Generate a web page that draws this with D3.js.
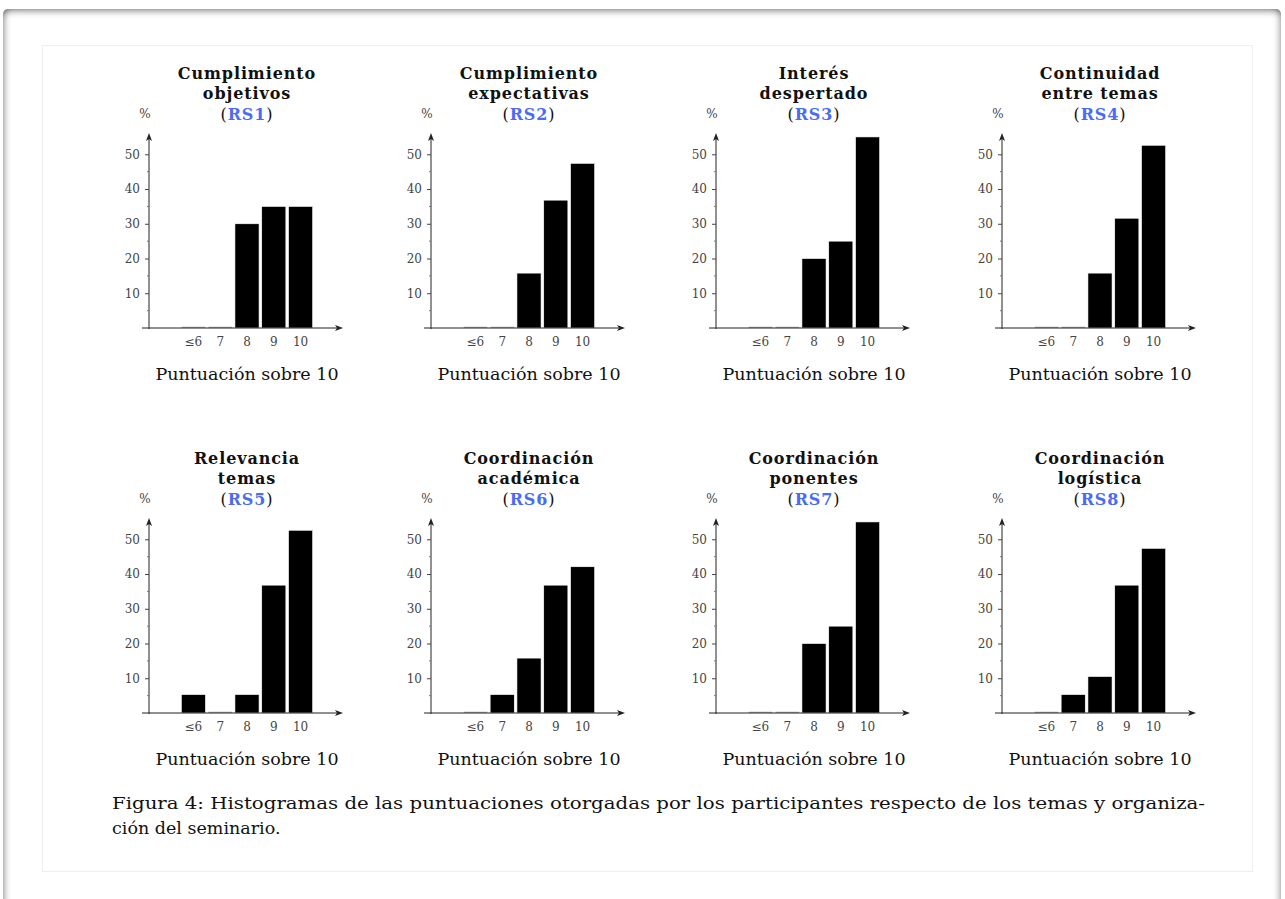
<!DOCTYPE html>
<html>
<head>
<meta charset="utf-8">
<script src="https://cdn.jsdelivr.net/npm/d3@7"></script>
<style>
body { margin: 0; background: #fff; width: 1285px; height: 899px; overflow: hidden; }
#paper {
  position: absolute; left: 3px; top: 9px; width: 1278px; height: 900px;
  background: #fff; border-radius: 5px 5px 0 0;
  box-shadow: inset 0 7px 7px -5px rgba(0,0,0,0.45), inset 6px 0 6px -4px rgba(0,0,0,0.35), inset -6px 0 6px -4px rgba(0,0,0,0.3);
}
svg { position: absolute; left: 0; top: 0; }
text { font-family: "DejaVu Serif", "Liberation Serif", serif; }
</style>
</head>
<body>
<div id="paper"></div>
<div id="chart"></div>
<script>
// score categories and tick labels
var categories = ["≤6", "7", "8", "9", "10"];
var yTicks = [10, 20, 30, 40, 50];
var yMinor = [5, 15, 25, 35, 45];

// titles (two lines) and codes
var titles = [
  ["Cumplimiento", "objetivos"],
  ["Cumplimiento", "expectativas"],
  ["Interés", "despertado"],
  ["Continuidad", "entre temas"],
  ["Relevancia", "temas"],
  ["Coordinación", "académica"],
  ["Coordinación", "ponentes"],
  ["Coordinación", "logística"]
];
var codes = ["RS1", "RS2", "RS3", "RS4", "RS5", "RS6", "RS7", "RS8"];

// percentages per panel (≤6, 7, 8, 9, 10)
var rs1 = [0, 0, 30, 35, 35];
var rs2 = [0, 0, 15.8, 36.8, 47.4];
var rs3 = [0, 0, 20, 25, 55];
var rs4 = [0, 0, 15.8, 31.6, 52.6];
var rs5 = [5.3, 0, 5.3, 36.8, 52.6];
var rs6 = [0, 5.3, 15.8, 36.8, 42.1];
var rs7 = [0, 0, 20, 25, 55];
var rs8 = [0, 5.3, 10.5, 36.8, 47.4];
var series = [rs1, rs2, rs3, rs4, rs5, rs6, rs7, rs8];

var xLabel = "Puntuación sobre 10";
var caption1 = "Figura 4: Histogramas de las puntuaciones otorgadas por los participantes respecto de los temas y organiza-";
var caption2 = "ción del seminario.";

var width = 1285, height = 899;
var colX = [149, 431, 716, 1002];   // y axis position per column
var rowY = [328, 713];              // baseline per row
var blue = "#4a6cf5";

var svg = d3.select("#chart").append("svg")
  .attr("width", width)
  .attr("height", height);

// inner box
svg.append("rect")
  .attr("x", 42.5).attr("y", 45.5)
  .attr("width", 1210).attr("height", 826)
  .attr("fill", "none")
  .attr("stroke", "#eeeeee");

function drawPanel(i) {
  var ax = colX[i % 4], base = rowY[Math.floor(i / 4)];
  var data = series[i];

  var yScale = d3.scaleLinear().domain([0, 50]).range([base, base - 173.7]);
  var xScale = d3.scaleBand().domain(categories)
    .range([ax + 31, ax + 165])
    .paddingInner(0.1).paddingOuter(0.05);

  var g = svg.append("g");

  // bars (zero shown as a thin line)
  g.selectAll("rect.bar")
    .data(data)
    .enter()
    .append("rect")
    .attr("class", "bar")
    .attr("x", function(d, k) { return xScale(categories[k]); })
    .attr("width", xScale.bandwidth())
    .attr("y", function(d) { return d > 0 ? yScale(d) : base - 1.5; })
    .attr("height", function(d) { return d > 0 ? base - yScale(d) : 1.5; })
    .attr("fill", function(d) { return d > 0 ? "#000" : "#888"; })
    .attr("stroke", "#fff")
    .attr("stroke-width", 0.6);

  // x axis line + arrow
  g.append("line")
    .attr("x1", ax - 7).attr("x2", ax + 190)
    .attr("y1", base).attr("y2", base)
    .attr("stroke", "#222").attr("stroke-width", 1);
  g.append("path")
    .attr("d", "M" + (ax + 194) + "," + base + " l-8,-3 l2,3 l-2,3 z")
    .attr("fill", "#222");

  // y axis line + arrow
  g.append("line")
    .attr("x1", ax).attr("x2", ax)
    .attr("y1", base + 1).attr("y2", base - 190)
    .attr("stroke", "#222").attr("stroke-width", 1);
  g.append("path")
    .attr("d", "M" + ax + "," + (base - 195) + " l-3,8 l3,-2 l3,2 z")
    .attr("fill", "#222");

  // y ticks via d3 axis
  var yAxis = d3.axisLeft(yScale).tickValues(yTicks).tickSize(4).tickPadding(5);
  var ya = g.append("g")
    .attr("transform", "translate(" + ax + ",0)")
    .call(yAxis);
  ya.select(".domain").remove();
  ya.selectAll("line").attr("stroke", "#444");
  ya.selectAll("text")
    .attr("font-family", "DejaVu Serif, serif")
    .attr("font-size", 12)
    .attr("fill", "#444");

  g.selectAll("line.minor")
    .data(yMinor)
    .enter()
    .append("line")
    .attr("class", "minor")
    .attr("x1", ax - 2).attr("x2", ax)
    .attr("y1", function(d) { return yScale(d); })
    .attr("y2", function(d) { return yScale(d); })
    .attr("stroke", "#777");

  // x tick labels
  var xAxis = d3.axisBottom(xScale).tickSize(0).tickPadding(9);
  var xa = g.append("g")
    .attr("transform", "translate(0," + base + ")")
    .call(xAxis);
  xa.select(".domain").remove();
  xa.selectAll("text")
    .attr("font-family", "DejaVu Serif, serif")
    .attr("font-size", 12)
    .attr("fill", "#444");

  var cx = ax + 98;

  // % label
  g.append("text")
    .attr("x", ax - 4).attr("y", base - 210)
    .attr("text-anchor", "middle")
    .attr("font-size", 12)
    .attr("fill", "#444")
    .text("%");

  // title
  var tl = [titles[i][0], titles[i][1]];
  tl.forEach(function(t, k) {
    g.append("text")
      .attr("x", cx).attr("y", base - 249 + k * 20)
      .attr("text-anchor", "middle")
      .attr("font-weight", "bold")
      .attr("font-size", 16)
      .attr("letter-spacing", 0.9)
      .attr("fill", "#111")
      .text(t);
  });
  var code = g.append("text")
    .attr("x", cx).attr("y", base - 208)
    .attr("text-anchor", "middle")
    .attr("font-weight", "bold")
    .attr("font-size", 16)
    .attr("letter-spacing", 0.9)
    .attr("fill", "#111");
  code.append("tspan").attr("font-weight", "normal").text("(");
  code.append("tspan").attr("fill", blue).text(codes[i]);
  code.append("tspan").attr("font-weight", "normal").text(")");

  // x label
  g.append("text")
    .attr("x", cx).attr("y", base + 52)
    .attr("text-anchor", "middle")
    .attr("font-size", 17.5)
    .attr("fill", "#111")
    .text(xLabel);
}

for (var i = 0; i < series.length; i++) drawPanel(i);

// caption
svg.append("text")
  .attr("x", 112).attr("y", 809)
  .attr("font-size", 17.5)
  .attr("fill", "#111")
  .attr("textLength", 1093)
  .attr("lengthAdjust", "spacingAndGlyphs")
  .text(caption1);
svg.append("text")
  .attr("x", 112).attr("y", 834)
  .attr("font-size", 17.5)
  .attr("fill", "#111")
  .text(caption2);
</script>
</body>
</html>
